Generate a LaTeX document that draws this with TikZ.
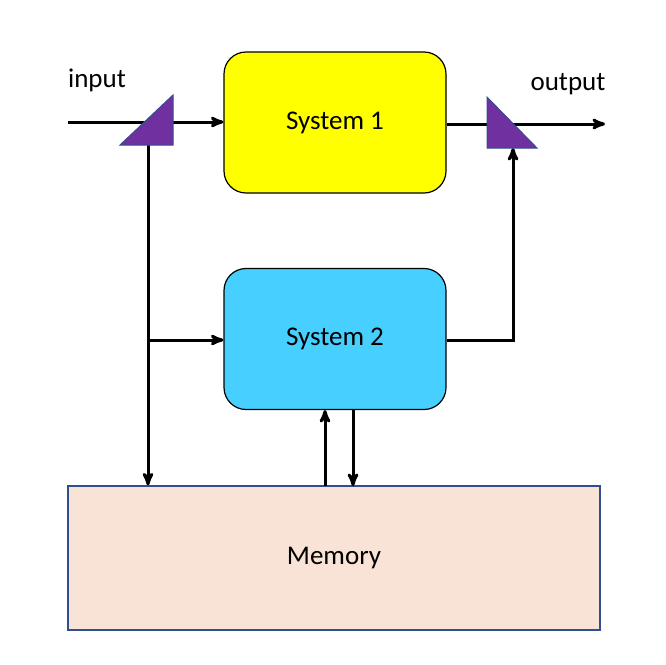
\documentclass[tikz,border=0pt]{standalone}
\usepackage{fontspec}
\setmainfont{Carlito}
\usetikzlibrary{arrows}
\definecolor{sysone}{HTML}{FFFF00}
\definecolor{systwo}{HTML}{47CFFF}
\definecolor{memfill}{HTML}{F9E3D6}
\definecolor{memline}{HTML}{2F4F8F}
\definecolor{prism}{HTML}{7030A0}
\begin{document}
\begin{tikzpicture}[x=1pt,y=-1pt,->,>=stealth',line width=3pt,
                    font=\fontsize{27}{30}\selectfont]
  \tikzstyle{sysbox}=[draw=black,line width=1.2pt,rounded corners=22pt,
                      minimum width=222pt,minimum height=141pt]
  \tikzstyle{prismtri}=[fill=prism,draw=memline,line width=1pt,-]
  \useasboundingbox (0,0) rectangle (666,664);

  \node[sysbox,fill=sysone] (S1) at (335,122.5) {System 1};
  \node[sysbox,fill=systwo] (S2) at (335,339) {System 2};
  \node[draw=memline,fill=memfill,line width=1.2pt,minimum width=532pt,
        minimum height=144pt] (M) at (334,558) {Memory};
  \node (in) at (97,80) {input};
  \node (out) at (568,84) {output};

  \coordinate (start) at (68,122);
  \coordinate (split) at (148,122);
  \coordinate (branch) at (148,340);
  \coordinate (merge) at (513,124);
  \coordinate (end) at (605,124);

  \draw (start) -- (S1.west |- start);
  \draw (S1.east |- merge) -- (end);
  \draw (split) -- (split |- M.north);
  \draw (branch) -- (S2.west |- branch);
  \draw (S2.east |- branch) -| (513,148);
  \draw (325,486) -- (325,410);
  \draw (353,410) -- (353,486);

  \draw[prismtri] (120,145) -- (173,95) -- (173,145) -- cycle;
  \draw[prismtri] (487,97) -- (487,148) -- (537,148) -- cycle;
\end{tikzpicture}
\end{document}
